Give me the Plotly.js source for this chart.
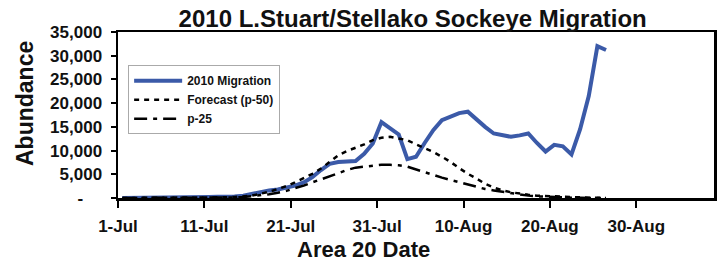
<!DOCTYPE html>
<html>
<head>
<meta charset="utf-8">
<script src="https://cdn.plot.ly/plotly-3.0.1.min.js"></script>
<style>html,body{margin:0;padding:0;background:#fff;}#chart{width:719px;height:262px;}</style>
</head>
<body>
<div id="chart"></div>
<script>
// Daily values starting 1-Jul-2010
var startDate = [2010, 6, 1];
var migration2010 = [0, 0, 50, 50, 100, 100, 100, 150, 150, 200, 200, 250, 250, 300, 500, 900, 1400, 1600, 1800, 2100,
  2600, 3300, 4400, 5900, 7200, 7600, 7700, 7800, 9300, 11500, 16000, 14800, 13400, 8200, 8700, 11600, 14300, 16400, 17200, 17900,
  18200, 16500, 15000, 13600, 13200, 12900, 13200, 13600, 11600, 9800, 11200, 10900, 9200, 14500, 21500, 32000, 31200];
var forecastP50 = [0, 0, 0, 0, 0, 10, 10, 20, 20, 30, 50, 80, 150, 200, 300, 500, 900, 1300, 1900, 2500,
  3300, 4200, 5100, 6200, 7600, 9000, 9900, 10600, 11300, 12200, 12700, 12900, 12600, 12200, 11300, 10500, 9700, 8700, 7600, 6300,
  5100, 4100, 3000, 2200, 1600, 1200, 900, 700, 500, 400, 300, 200, 150, 100, 60, 30, 20];
var p25 = [0, 0, 0, 0, 0, 0, 10, 10, 20, 20, 30, 50, 80, 120, 200, 350, 550, 800, 1100, 1500,
  2100, 2600, 3300, 3900, 4500, 5200, 5900, 6400, 6600, 6800, 7000, 7000, 6900, 6600, 6000, 5400, 4800, 4300, 3800, 3300,
  2900, 2400, 1900, 1600, 1300, 1000, 700, 500, 350, 250, 150, 100, 60, 30, 20, 10, 0];
var yTickVals = [0, 5000, 10000, 15000, 20000, 25000, 30000, 35000];
var yTickText = ['-\u00a0\u00a0\u00a0\u00a0', '5,000', '10,000', '15,000', '20,000', '25,000', '30,000', '35,000'];
var xTickVals = ['2010-07-01', '2010-07-11', '2010-07-21', '2010-07-31', '2010-08-10', '2010-08-20', '2010-08-30'];
var xTickText = ['1-Jul', '11-Jul', '21-Jul', '31-Jul', '10-Aug', '20-Aug', '30-Aug'];

function dayLabels(n) {
  var out = [];
  for (var i = 0; i < n; i++) {
    var d = new Date(Date.UTC(startDate[0], startDate[1], startDate[2] + i, 12));
    out.push(d.toISOString().slice(0, 16).replace('T', ' '));
  }
  return out;
}

var FONT = 'Liberation Sans, Arial, sans-serif';

var traces = [
  {x: dayLabels(migration2010.length), y: migration2010, type: 'scatter', mode: 'lines', name: '2010 Migration',
   legendgroup: 'a', line: {color: '#3b5aa8', width: 4}},
  {x: dayLabels(forecastP50.length), y: forecastP50, type: 'scatter', mode: 'lines', name: 'Forecast (p-50)',
   legendgroup: 'b', line: {color: '#000', width: 2.5, dash: '5px,5px'}},
  {x: dayLabels(p25.length), y: p25, type: 'scatter', mode: 'lines', name: 'p-25',
   legendgroup: 'c', line: {color: '#000', width: 2.5, dash: '13px,6px,4px,6px'}}
];

var layout = {
  width: 719, height: 262,
  margin: {l: 118, r: 5, t: 32, b: 64, pad: 0},
  paper_bgcolor: '#fff', plot_bgcolor: '#fff',
  showlegend: true,
  hovermode: false,
  font: {family: FONT, color: '#111'},
  title: {text: '2010 L.Stuart/Stellako Sockeye Migration', font: {family: FONT, size: 24, weight: 'bold', color: '#111'},
          xref: 'container', x: 0.574, xanchor: 'center', yref: 'container', y: 0.93, yanchor: 'middle'},
  xaxis: {type: 'date', range: ['2010-07-01', '2010-09-08'], tickvals: xTickVals, ticktext: xTickText,
          showgrid: false, zeroline: false, showline: true, linecolor: '#000', linewidth: 2.5, mirror: true,
          ticks: 'outside', ticklen: 7, tickwidth: 2, tickcolor: '#000', ticklabelstandoff: 4,
          tickfont: {family: FONT, size: 17, weight: 'bold', color: '#111'}},
  yaxis: {range: [0, 35000], tickvals: yTickVals, ticktext: yTickText,
          showgrid: false, zeroline: false, showline: true, linecolor: '#000', linewidth: 2.5, mirror: true,
          ticks: 'outside', ticklen: 5, tickwidth: 2, tickcolor: '#000', ticklabelstandoff: 5,
          tickfont: {family: FONT, size: 17, weight: 'bold', color: '#111'}},
  legend: {x: 0.017, y: 0.80, xanchor: 'left', yanchor: 'top', bgcolor: '#fff', bordercolor: '#aaa', borderwidth: 1,
           font: {family: FONT, size: 12, weight: 'bold', color: '#111'}, itemwidth: 48, tracegroupgap: 3,
           traceorder: 'normal'},
  annotations: [
    {text: 'Area 20 Date', xref: 'paper', yref: 'paper', x: (363 - 118) / 596, y: (198 - 249) / 166, xanchor: 'center', yanchor: 'middle',
     showarrow: false, font: {family: FONT, size: 22, weight: 'bold', color: '#111'}},
    {text: 'Abundance', xref: 'paper', yref: 'paper', x: (25 - 118) / 596, y: (198 - 104) / 166, xanchor: 'center', yanchor: 'middle',
     textangle: -90, showarrow: false, font: {family: FONT, size: 23, weight: 'bold', color: '#111'}}
  ]
};

Plotly.newPlot('chart', traces, layout, {displayModeBar: false, staticPlot: true});
</script>
</body>
</html>
